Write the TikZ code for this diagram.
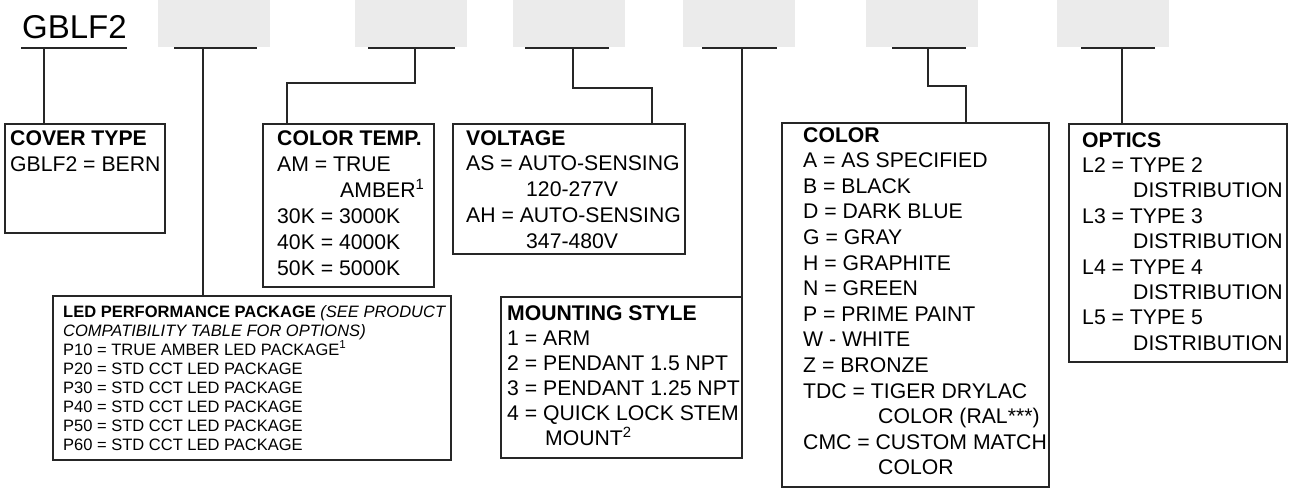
\documentclass[tikz,border=0pt]{standalone}
\usepackage{fontspec}
\setmainfont{Liberation Sans}
\newcommand\mylines[2]{\vtop{\baselineskip=#1\relax\lineskiplimit=-\maxdimen\lineskip=0pt #2}}
\newcommand\rowl[1]{\hbox{#1}}
\tikzset{
  optbox/.style={draw=black!85, line width=1.2pt, inner sep=0pt, outer sep=0pt, anchor=north west},
  blank/.style={fill=black!8, draw=none, inner sep=0pt, outer sep=0pt, anchor=north west,
                minimum height=47pt, minimum width=112pt},
  uline/.style={line width=2pt, draw=black!85},
  conn/.style={line width=1.2pt, draw=black!85},
  bigtxt/.style={anchor=base west, inner sep=0pt, font=\fontsize{21.2}{26}\selectfont},
  smalltxt/.style={anchor=base west, inner sep=0pt, font=\fontsize{16.5}{19}\selectfont},
}
\begin{document}
\begin{tikzpicture}[x=1pt,y=-1pt]
\useasboundingbox (0,0) rectangle (1290,498);

% title and blanks
\node[anchor=base west, inner sep=0pt, font=\fontsize{33}{40}\selectfont] (title) at (22,38) {GBLF2};
\node[blank] (g1) at (158,0) {};
\node[blank] (g2) at (355,0) {};
\node[blank] (g3) at (513,0) {};
\node[blank] (g4) at (683,0) {};
\node[blank] (g5) at (866,0) {};
\node[blank] (g6) at (1057,0) {};

% underlines
\coordinate (u0a) at (21,48);   \coordinate (u0b) at (127,48);
\coordinate (u1a) at (174,48);  \coordinate (u1b) at (257,48);
\coordinate (u2a) at (368,48);  \coordinate (u2b) at (455,48);
\coordinate (u3a) at (525,48);  \coordinate (u3b) at (609,48);
\coordinate (u4a) at (702,48);  \coordinate (u4b) at (777,48);
\coordinate (u5a) at (892,48);  \coordinate (u5b) at (966,48);
\coordinate (u6a) at (1081,48); \coordinate (u6b) at (1155,48);
\foreach \i in {0,...,6}{\draw[uline] (u\i a) -- (u\i b);}

% boxes
\node[optbox, minimum width=160pt, minimum height=109pt] (cover) at (5,124) {};
\node[optbox, minimum width=171pt, minimum height=163pt] (ctemp) at (263,124) {};
\node[optbox, minimum width=232pt, minimum height=130pt] (volt) at (453,124) {};
\node[optbox, minimum width=398pt, minimum height=164pt] (led) at (53,296) {};
\node[optbox, minimum width=241pt, minimum height=161pt] (mount) at (501,297) {};
\node[optbox, minimum width=267pt, minimum height=364pt] (color) at (782,123) {};
\node[optbox, minimum width=218pt, minimum height=238pt] (optics) at (1069,124) {};

% connector start points
\coordinate (s0) at (44,48);
\coordinate (s1) at (203,48);
\coordinate (s2) at (415,48);
\coordinate (s3) at (573,48);
\coordinate (s4) at (742,48);
\coordinate (s5) at (928,48);
\coordinate (s6) at (1122,48);
\coordinate (k2) at (287,83);
\coordinate (k3) at (652,88);
\coordinate (k5) at (966,86);

\draw[conn] (s0) -- (s0 |- cover.north);
\draw[conn] (s1) -- (s1 |- led.north);
\draw[conn] (s2) |- (k2) -- (k2 |- ctemp.north);
\draw[conn] (s3) |- (k3) -- (k3 |- volt.north);
\draw[conn] (s4) -- (s4 |- mount.north);
\draw[conn] (s5) |- (k5) -- (k5 |- color.north);
\draw[conn] (s6) -- (s6 |- optics.north);

% texts
\node[bigtxt] (tcover) at (10,145) {\mylines{26pt}{%
  \rowl{\textbf{COVER TYPE}}
  \rowl{GBLF2 = BERN}}};

\node[bigtxt] (tctemp) at (277,145) {\mylines{26pt}{%
  \rowl{\textbf{COLOR TEMP.}}
  \rowl{AM = TRUE}
  \rowl{\kern63pt AMBER\textsuperscript{1}}
  \rowl{30K = 3000K}
  \rowl{40K = 4000K}
  \rowl{50K = 5000K}}};

\node[bigtxt] (tvolt) at (466,145) {\mylines{25.8pt}{%
  \rowl{\textbf{VOLTAGE}}
  \rowl{AS = AUTO-SENSING}
  \rowl{\kern60pt 120-277V}
  \rowl{AH = AUTO-SENSING}
  \rowl{\kern60pt 347-480V}}};

\node[smalltxt] (tled) at (63,317) {\mylines{19pt}{%
  \rowl{\textbf{LED PERFORMANCE PACKAGE} \textit{(SEE PRODUCT}}
  \rowl{\textit{COMPATIBILITY TABLE FOR OPTIONS)}}
  \rowl{P10 = TRUE AMBER LED PACKAGE\textsuperscript{1}}
  \rowl{P20 = STD CCT LED PACKAGE}
  \rowl{P30 = STD CCT LED PACKAGE}
  \rowl{P40 = STD CCT LED PACKAGE}
  \rowl{P50 = STD CCT LED PACKAGE}
  \rowl{P60 = STD CCT LED PACKAGE}}};

\node[bigtxt] (tmount) at (507,320) {\mylines{25pt}{%
  \rowl{\textbf{MOUNTING STYLE}}
  \rowl{1 = ARM}
  \rowl{2 = PENDANT 1.5 NPT}
  \rowl{3 = PENDANT 1.25 NPT}
  \rowl{4 = QUICK LOCK STEM}
  \rowl{\kern38pt MOUNT\textsuperscript{2}}}};

\node[bigtxt] (tcolor) at (803,142) {\mylines{25.6pt}{%
  \rowl{\textbf{COLOR}}
  \rowl{A = AS SPECIFIED}
  \rowl{B = BLACK}
  \rowl{D = DARK BLUE}
  \rowl{G = GRAY}
  \rowl{H = GRAPHITE}
  \rowl{N = GREEN}
  \rowl{P = PRIME PAINT}
  \rowl{W - WHITE}
  \rowl{Z = BRONZE}
  \rowl{TDC = TIGER DRYLAC}
  \rowl{\kern75pt COLOR (RAL***)}
  \rowl{CMC = CUSTOM MATCH}
  \rowl{\kern75pt COLOR}}};

\node[bigtxt] (toptics) at (1082,147) {\mylines{25.4pt}{%
  \rowl{\textbf{OPTICS}}
  \rowl{L2 = TYPE 2}
  \rowl{\kern51pt DISTRIBUTION}
  \rowl{L3 = TYPE 3}
  \rowl{\kern51pt DISTRIBUTION}
  \rowl{L4 = TYPE 4}
  \rowl{\kern51pt DISTRIBUTION}
  \rowl{L5 = TYPE 5}
  \rowl{\kern51pt DISTRIBUTION}}};
\end{tikzpicture}
\end{document}
